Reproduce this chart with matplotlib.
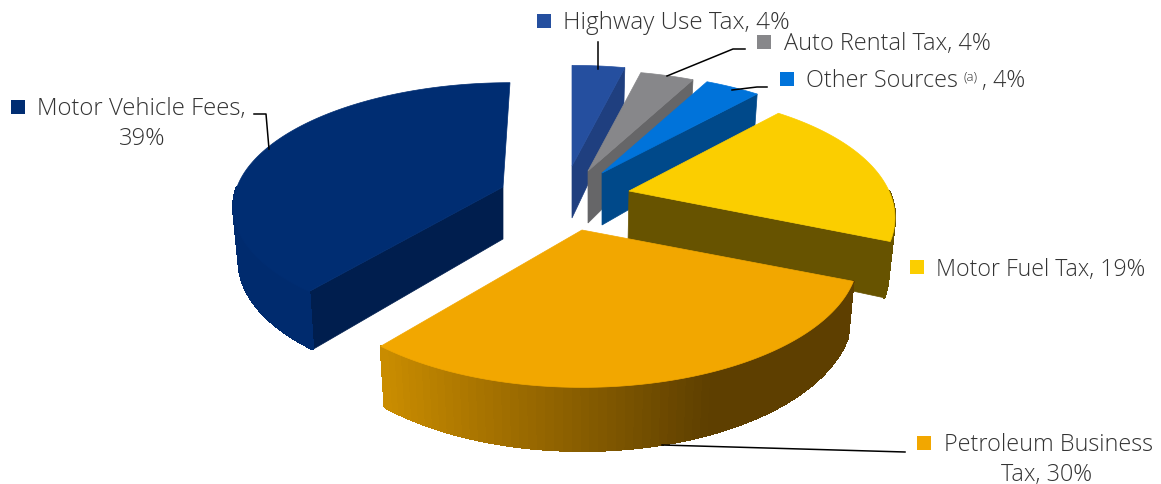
import numpy as np
import matplotlib.pyplot as plt
from matplotlib.collections import PolyCollection
from matplotlib.colors import to_rgb
from matplotlib.patches import Rectangle

# Share of revenue, clockwise from 12 o'clock
categories = ["Highway Use Tax", "Auto Rental Tax", "Other Sources",
              "Motor Fuel Tax", "Petroleum Business Tax", "Motor Vehicle Fees"]
shares = [4, 4, 4, 19, 30, 39]

# Wedge look, same order as categories
top_colors = ["#254f9f", "#87878a", "#0073da", "#fbce00", "#f2a700", "#002d72"]
side_colors = ["#1f3f7f", "#666668", "#00498a", "#675300", "#8a6000", "#001e4e"]
rim_left = ["#1f3f7f", "#666668", "#00498a", "#675300", "#cc8e00", "#002b6e"]
rim_right = ["#1f3f7f", "#666668", "#00498a", "#675300", "#5e3f00", "#001f55"]
apex = [(572, 167), (588, 172), (602, 174), (629, 192), (582, 231), (503, 188)]
bottom_shift = [0, 0, 0, -1, 0, 0]
draw_order = [5, 0, 1, 2, 3, 4]

# Projection of the pie plane, per wedge
radius_x = [270, 270, 270, 260, 270, 266]
radius_y = [129, 129, 129, 127, 129, 122]
persp = [0.22, 0.22, 0.22, 0.22, 0.22, 0.145]
skew = [0, 0, 0, 0, 0, -7]
HEIGHT, SHRINK = 52, 0.98

TEXT = "#333333"
FONT = "Open Sans"


def project(i, a_deg):
    a = np.radians(a_deg)
    u, v = np.sin(a), -np.cos(a)
    s = 1 + persp[i] * v
    return radius_x[i] * u * s + skew[i] * v, radius_y[i] * v * s, s


def top_pt(i, a):
    x, y, s = project(i, a)
    return apex[i][0] + x, apex[i][1] + y


def low_pt(i, a):
    x, y, s = project(i, a)
    return apex[i][0] + bottom_shift[i] + SHRINK * x, apex[i][1] + y + HEIGHT * s


fig = plt.figure(figsize=(11.61, 4.85), dpi=100)
ax = fig.add_axes([0, 0, 1, 1])
ax.set_xlim(0, 1161)
ax.set_ylim(485, 0)
ax.axis("off")

edges = np.cumsum([0] + shares) / sum(shares) * 360

for i in draw_order:
    start, end = edges[i], edges[i + 1]
    ox, oy = apex[i]
    low_apex = (ox + bottom_shift[i], oy + HEIGHT)

    # cut faces that look toward the viewer
    if start > 180:
        ax.fill(*zip((ox, oy), top_pt(i, start), low_pt(i, start), low_apex),
                color=side_colors[i], lw=0.5, zorder=2)
    if end < 180:
        ax.fill(*zip((ox, oy), top_pt(i, end), low_pt(i, end), low_apex),
                color=side_colors[i], lw=0.5, zorder=2)

    # outer rim, shaded left to right
    lo, hi = max(start, 90), min(end, 270)
    if lo < hi:
        ang = np.linspace(lo, hi, 70)
        polys, cols = [], []
        c0, c1 = np.array(to_rgb(rim_left[i])), np.array(to_rgb(rim_right[i]))
        for a0, a1 in zip(ang[:-1], ang[1:]):
            polys.append([top_pt(i, a0), top_pt(i, a1), low_pt(i, a1), low_pt(i, a0)])
            t = np.clip((np.sin(np.radians(a0)) + 0.64) / 1.04, 0, 1)
            cols.append(c0 + (c1 - c0) * t)
        ax.add_collection(PolyCollection(polys, facecolors=cols, edgecolors=cols,
                                         linewidths=1.0, antialiased=False, zorder=2))

    # top face
    ang = np.linspace(start, end, 160)
    pts = [(ox, oy)] + [top_pt(i, a) for a in ang]
    ax.fill(*zip(*pts), color=top_colors[i], lw=0.5, zorder=3)

# Leader lines
leaders = [
    [(598, 43), (598, 70)],
    [(745, 50), (733, 50), (667, 77)],
    [(767, 88), (757, 88), (732, 91)],
    [(254, 115), (266, 115), (269, 150)],
    [(662, 446), (905, 453)],
]
for line in leaders:
    ax.plot(*zip(*line), color="black", lw=1.1, zorder=4)

# Legend-style keys and labels
keys = [(537, 15), (757, 36), (780, 73), (910, 261), (917, 437), (11, 101)]
for i, (kx, ky) in enumerate(keys):
    ax.add_patch(Rectangle((kx, ky), 14, 14, color=top_colors[i], lw=0, zorder=5))

style = dict(family=FONT, weight="light", color=TEXT, va="center", zorder=5)
ax.text(563, 23, f"Highway Use Tax, {shares[0]}%", fontsize=17.5, **style)
ax.text(784, 44, f"Auto Rental Tax, {shares[1]}%", fontsize=16.9, **style)
ax.text(806, 81, "Other Sources", fontsize=16.8, **style)
ax.text(964, 77, "(a)", fontsize=9.5, **style)
ax.text(982, 81, f", {shares[2]}%", fontsize=16.8, **style)
ax.text(936, 270, f"Motor Fuel Tax, {shares[3]}%", fontsize=16.7, **style)
ax.text(944, 445, "Petroleum Business", fontsize=16.8, **style)
ax.text(1047, 475, f"Tax, {shares[4]}%", ha="center", fontsize=16.8, **style)
ax.text(37, 109, "Motor Vehicle Fees,", fontsize=17.2, **style)
ax.text(142, 139, f"{shares[5]}%", ha="center", fontsize=17.2, **style)

fig.savefig("out.png", dpi=100)
